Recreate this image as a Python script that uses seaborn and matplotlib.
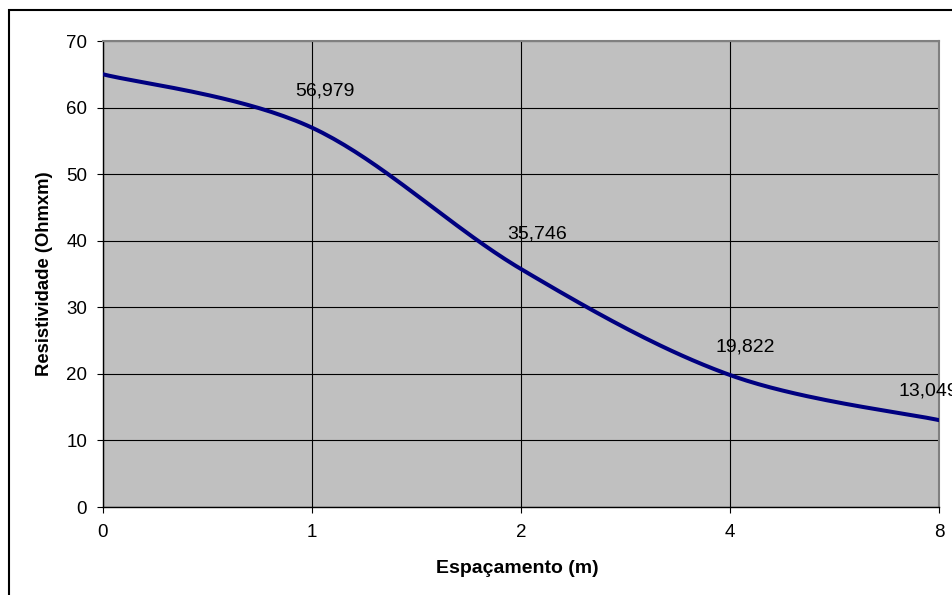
import numpy as np
import pandas as pd
import seaborn as sns
import matplotlib
matplotlib.use("Agg")
from matplotlib import pyplot as plt
from matplotlib.patches import Rectangle

# data
espacamento = ["0", "1", "2", "4", "8"]
resistividade = [65.0, 56.979, 35.746, 19.822, 13.049]
labelled = [False, True, True, True, True]
# label offsets in pixels (dx, dy) from each point
label_offsets = [(0, 0), (13, 37), (16, 35), (15, 28), (-11, 29)]

sns.set_theme(style="white")
plt.rcParams['font.family'] = ['Liberation Sans', 'DejaVu Sans']


def smooth_curve(xs, ys, n=40):
    # Excel-like smoothed line (Catmull-Rom bezier through points)
    pts = np.column_stack([xs, ys]).astype(float)
    ext = np.vstack([pts[0], pts, pts[-1]])
    out = []
    t = np.linspace(0, 1, n)[:, None]
    for i in range(len(pts) - 1):
        p0, p1, p2, p3 = ext[i], ext[i + 1], ext[i + 2], ext[i + 3]
        c1 = p1 + (p2 - p0) / 6
        c2 = p2 - (p3 - p1) / 6
        seg = ((1 - t) ** 3) * p1 + 3 * t * (1 - t) ** 2 * c1 + 3 * t ** 2 * (1 - t) * c2 + t ** 3 * p2
        out.append(seg if i == 0 else seg[1:])
    out = np.vstack(out)
    return out[:, 0], out[:, 1]


pos = np.arange(len(espacamento))
sx, sy = smooth_curve(pos, resistividade)
df = pd.DataFrame({"x": sx, "y": sy})

fig = plt.figure(figsize=(9.52, 5.95), dpi=100)
ax = fig.add_axes([103 / 952, 88 / 595, 836 / 952, 466 / 595])
ax.set_facecolor("#C0C0C0")

sns.lineplot(data=df, x="x", y="y", sort=False, color="#000080", linewidth=2.9, ax=ax, zorder=3)

ax.set_xlim(0, len(espacamento) - 1)
ax.set_ylim(0, 70)
ax.set_xticks(pos)
ax.set_xticklabels(espacamento)
ax.set_yticks(range(0, 71, 10))
ax.grid(True, color="black", linewidth=0.8)
ax.set_axisbelow(True)

ax.tick_params(axis="both", which="both", direction="out", length=4.5, width=0.8,
               color="black", labelsize=13.5, labelcolor="black",
               bottom=True, left=True)
ax.tick_params(axis="x", pad=8)
ax.tick_params(axis="y", pad=7)

for side in ["left", "bottom"]:
    ax.spines[side].set_color("black")
    ax.spines[side].set_linewidth(1.0)
for side in ["top", "right"]:
    ax.spines[side].set_visible(True)
    ax.spines[side].set_color("#808080")
    ax.spines[side].set_linewidth(1.5)

ax.set_xlabel("Espaçamento (m)", fontsize=14, fontweight="bold", color="black")
ax.set_ylabel("Resistividade (Ohmxm)", fontsize=13.3, fontweight="bold", color="black")
ax.xaxis.set_label_coords(0.496, -0.113)
ax.yaxis.set_label_coords(-0.06, 0.5)

for p, v, show, off in zip(pos, resistividade, labelled, label_offsets):
    if not show:
        continue
    ax.annotate(f"{v:.3f}".replace(".", ","), xy=(p, v), xytext=off,
                textcoords="offset pixels", ha="center", va="center",
                fontsize=14, color="black", annotation_clip=False, zorder=4)

# outer chart border (runs past the right and bottom edges, as in the original)
fig.patches.append(Rectangle((9 / 952, -0.1), 1.2, 1.1 - 10 / 595, transform=fig.transFigure,
                             fill=False, edgecolor="black", linewidth=1.5, clip_on=False))

fig.savefig("out.png", dpi=100, facecolor="white")
